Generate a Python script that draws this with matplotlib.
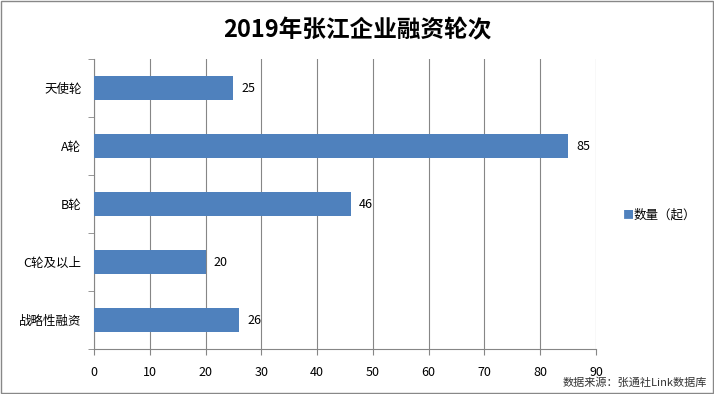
import matplotlib.pyplot as plt
from matplotlib.patches import Rectangle

# chart data
categories = ["天使轮", "A轮", "B轮", "C轮及以上", "战略性融资"]
counts = [25, 85, 46, 20, 26]
x_ticks = [0, 10, 20, 30, 40, 50, 60, 70, 80, 90]

plt.rcParams['font.family'] = ['Noto Sans CJK SC', 'DejaVu Sans']

barColor = "#4F81BD"
gridColor = "#868686"

fig = plt.figure(figsize=(7.14, 3.94), dpi=100)
ax = fig.add_axes([94 / 714, 1 - 349 / 394, 502 / 714, 290 / 394])

y = list(range(len(categories)))
rects = ax.barh(y, counts, height=0.4, color=barColor, zorder=3)
ax.bar_label(rects, padding=6, fontsize=9)

ax.set_ylim(len(categories) - 0.5, -0.5)
ax.set_xlim(0, 90)
ax.set_xticks(x_ticks)
ax.set_xticklabels([str(v) for v in x_ticks], fontsize=9)
ax.set_yticks(y)
ax.set_yticklabels(categories, fontsize=9)
ax.tick_params(axis='y', length=0, pad=9)
ax.tick_params(axis='x', length=4, color=gridColor, pad=8)

# tick marks between categories on the y axis
ax.set_yticks([i - 0.5 for i in range(len(categories) + 1)], minor=True)
ax.tick_params(axis='y', which='minor', length=4, color=gridColor)

ax.xaxis.grid(True, color=gridColor, linewidth=0.8, zorder=0)
for side in ['top', 'right']:
    ax.spines[side].set_visible(False)
for side in ['left', 'bottom']:
    ax.spines[side].set_color(gridColor)
    ax.spines[side].set_linewidth(0.8)

# title, legend and source note
fig.text(0.5, 1 - 30 / 394, "2019年张江企业融资轮次", ha='center', va='center',
         fontsize=17, fontweight='bold')
fig.text(623 / 714, 1 - 215 / 394, "■", color=barColor, ha='left', va='center', fontsize=8)
fig.text(634 / 714, 1 - 215 / 394, "数量（起）", ha='left', va='center', fontsize=9)
fig.text(707 / 714, 1 - 383 / 394, "数据来源：张通社Link数据库", ha='right', va='center',
         fontsize=8, color="#333333")

# outer frame
fig.patches.append(Rectangle((0.002, 0.003), 0.996, 0.994, transform=fig.transFigure,
                             fill=False, edgecolor="#888888", linewidth=1))

fig.savefig("out.png", dpi=100)
